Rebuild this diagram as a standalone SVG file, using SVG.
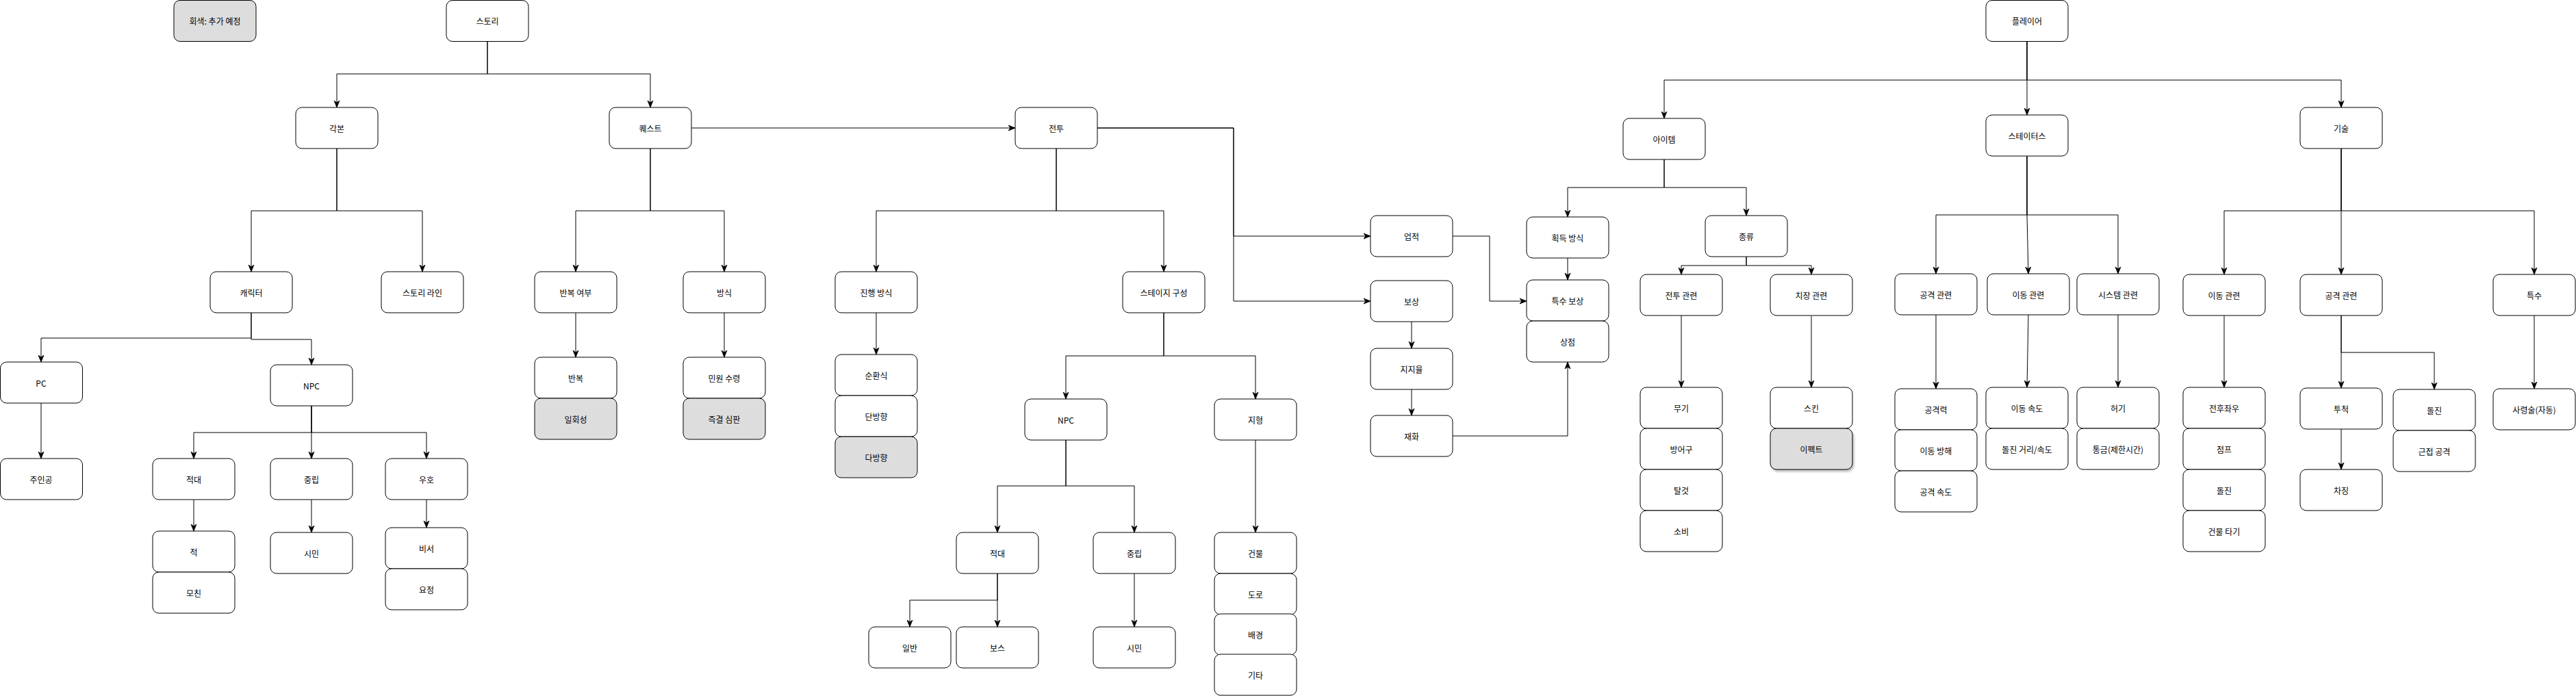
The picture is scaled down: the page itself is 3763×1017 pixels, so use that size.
<svg xmlns="http://www.w3.org/2000/svg" width="3763" height="1017" viewBox="0 0 3763 1017">
<style>
.node rect{fill:#ffffff;stroke:#000000;stroke-width:1}
.node.gray rect{fill:#dddddd}
.node text{font-family:"Noto Sans CJK KR","Liberation Sans",sans-serif;font-size:12px;fill:#000000;text-anchor:middle;dominant-baseline:central}
.edges path{fill:none;stroke:#000000;stroke-width:1}
</style>
<defs>
<marker id="arr" markerUnits="userSpaceOnUse" markerWidth="10" markerHeight="10" viewBox="0 0 10 10" refX="10" refY="5" orient="auto">
<path d="M0,1 L10,5 L0,9 L3,5 z" fill="#000000" stroke="#000000" stroke-width="0.8"/>
</marker>
<filter id="shadow" x="-10%" y="-10%" width="130%" height="140%">
<feDropShadow dx="2" dy="3" stdDeviation="1.5" flood-color="#000000" flood-opacity="0.25"/>
</filter>
</defs>
<rect x="0" y="0" width="3763" height="1017" fill="#ffffff"/>
<g class="edges" marker-end="url(#arr)">
<path d="M712,60 V108 H492 V157"/>
<path d="M712,60 V108 H950 V157"/>
<path d="M492,217 V308 H367 V397"/>
<path d="M492,217 V308 H617 V397"/>
<path d="M367,457 V494 H60 V529"/>
<path d="M367,457 V496 H455 V533"/>
<path d="M60,589 V670"/>
<path d="M455,593 V632 H283 V670"/>
<path d="M455,593 V670"/>
<path d="M455,593 V632 H623 V670"/>
<path d="M283,730 V776"/>
<path d="M455,730 V778"/>
<path d="M623,730 V771"/>
<path d="M1010,187 H1483"/>
<path d="M950,217 V308 H841 V397"/>
<path d="M950,217 V308 H1058 V397"/>
<path d="M841,457 V522"/>
<path d="M1058,457 V522"/>
<path d="M1543,217 V308 H1280 V397"/>
<path d="M1543,217 V308 H1700 V397"/>
<path d="M1280,457 V518"/>
<path d="M1700,457 V520 H1557 V583"/>
<path d="M1700,457 V520 H1834 V583"/>
<path d="M1557,643 V710 H1457 V778"/>
<path d="M1557,643 V710 H1657 V778"/>
<path d="M1457,838 V877 H1329 V916"/>
<path d="M1457,838 V916"/>
<path d="M1657,838 V916"/>
<path d="M1834,643 V778"/>
<path d="M1603,187 H1802 V345 H2002"/>
<path d="M1603,187 H1802 V440 H2002"/>
<path d="M2062,470 V509"/>
<path d="M2062,569 V607"/>
<path d="M2122,345 H2176 V440 H2230"/>
<path d="M2122,637 H2290 V529"/>
<path d="M2961,60 V117 H2431 V173"/>
<path d="M2961,60 V168"/>
<path d="M2961,60 V117 H3420 V157"/>
<path d="M2431,233 V274 H2290 V317"/>
<path d="M2431,233 V274 H2551 V315"/>
<path d="M2290,377 V409"/>
<path d="M2551,375 V388 H2456 V401"/>
<path d="M2551,375 V388 H2646 V401"/>
<path d="M2456,461 V566"/>
<path d="M2646,462 V566"/>
<path d="M2961,228 V314 H2828 V400"/>
<path d="M2961,228 V314 L2963,400"/>
<path d="M2961,228 V314 H3094 V400"/>
<path d="M2828,460 V568"/>
<path d="M2963,460 L2961,566"/>
<path d="M3094,460 V566"/>
<path d="M3420,217 V308 H3249 V401"/>
<path d="M3420,217 V401"/>
<path d="M3420,217 V308 H3702 V401"/>
<path d="M3249,461 V566"/>
<path d="M3420,461 V567"/>
<path d="M3420,461 V515 H3556 V569"/>
<path d="M3420,627 V686"/>
<path d="M3702,461 V568"/>
</g>
<g id="n_legend" class="node gray"><rect x="254" y="0.5" width="120" height="60" rx="9"/><text x="314" y="30">회색: 추가 예정</text></g>
<g id="n_story" class="node"><rect x="652" y="0.5" width="120" height="60" rx="9"/><text x="712" y="30">스토리</text></g>
<g id="n_script" class="node"><rect x="432" y="157" width="120" height="60" rx="9"/><text x="492" y="187">각본</text></g>
<g id="n_quest" class="node"><rect x="890" y="157" width="120" height="60" rx="9"/><text x="950" y="187">퀘스트</text></g>
<g id="n_battle" class="node"><rect x="1483" y="157" width="120" height="60" rx="9"/><text x="1543" y="187">전투</text></g>
<g id="n_char" class="node"><rect x="307" y="397" width="120" height="60" rx="9"/><text x="367" y="427">캐릭터</text></g>
<g id="n_storyline" class="node"><rect x="557" y="397" width="120" height="60" rx="9"/><text x="617" y="427">스토리 라인</text></g>
<g id="n_pc" class="node"><rect x="0.5" y="529" width="120" height="60" rx="9"/><text x="60" y="559">PC</text></g>
<g id="n_npc" class="node"><rect x="395" y="533" width="120" height="60" rx="9"/><text x="455" y="563">NPC</text></g>
<g id="n_hero" class="node"><rect x="0.5" y="670" width="120" height="60" rx="9"/><text x="60" y="700">주인공</text></g>
<g id="n_hostile" class="node"><rect x="223" y="670" width="120" height="60" rx="9"/><text x="283" y="700">적대</text></g>
<g id="n_neutral" class="node"><rect x="395" y="670" width="120" height="60" rx="9"/><text x="455" y="700">중립</text></g>
<g id="n_friendly" class="node"><rect x="563" y="670" width="120" height="60" rx="9"/><text x="623" y="700">우호</text></g>
<g id="n_enemy" class="node"><rect x="223" y="776" width="120" height="60" rx="9"/><text x="283" y="806">적</text></g>
<g id="n_mother" class="node"><rect x="223" y="836" width="120" height="60" rx="9"/><text x="283" y="866">모친</text></g>
<g id="n_citizen" class="node"><rect x="395" y="778" width="120" height="60" rx="9"/><text x="455" y="808">시민</text></g>
<g id="n_secretary" class="node"><rect x="563" y="771" width="120" height="60" rx="9"/><text x="623" y="801">비서</text></g>
<g id="n_fairy" class="node"><rect x="563" y="831" width="120" height="60" rx="9"/><text x="623" y="861">요정</text></g>
<g id="n_repeat" class="node"><rect x="781" y="397" width="120" height="60" rx="9"/><text x="841" y="427">반복 여부</text></g>
<g id="n_method" class="node"><rect x="998" y="397" width="120" height="60" rx="9"/><text x="1058" y="427">방식</text></g>
<g id="n_rep" class="node"><rect x="781" y="522" width="120" height="60" rx="9"/><text x="841" y="552">반복</text></g>
<g id="n_once" class="node gray"><rect x="781" y="582" width="120" height="60" rx="9"/><text x="841" y="612">일회성</text></g>
<g id="n_complaint" class="node"><rect x="998" y="522" width="120" height="60" rx="9"/><text x="1058" y="552">민원 수령</text></g>
<g id="n_summary" class="node gray"><rect x="998" y="582" width="120" height="60" rx="9"/><text x="1058" y="612">즉결 심판</text></g>
<g id="n_progress" class="node"><rect x="1220" y="397" width="120" height="60" rx="9"/><text x="1280" y="427">진행 방식</text></g>
<g id="n_cyclic" class="node"><rect x="1220" y="518" width="120" height="60" rx="9"/><text x="1280" y="548">순환식</text></g>
<g id="n_oneway" class="node"><rect x="1220" y="578" width="120" height="60" rx="9"/><text x="1280" y="608">단방향</text></g>
<g id="n_multi" class="node gray"><rect x="1220" y="638" width="120" height="60" rx="9"/><text x="1280" y="668">다방향</text></g>
<g id="n_stage" class="node"><rect x="1640" y="397" width="120" height="60" rx="9"/><text x="1700" y="427">스테이지 구성</text></g>
<g id="n_bnpc" class="node"><rect x="1497" y="583" width="120" height="60" rx="9"/><text x="1557" y="613">NPC</text></g>
<g id="n_terrain" class="node"><rect x="1774" y="583" width="120" height="60" rx="9"/><text x="1834" y="613">지형</text></g>
<g id="n_bhostile" class="node"><rect x="1397" y="778" width="120" height="60" rx="9"/><text x="1457" y="808">적대</text></g>
<g id="n_bneutral" class="node"><rect x="1597" y="778" width="120" height="60" rx="9"/><text x="1657" y="808">중립</text></g>
<g id="n_normal" class="node"><rect x="1269" y="916" width="120" height="60" rx="9"/><text x="1329" y="946">일반</text></g>
<g id="n_boss" class="node"><rect x="1397" y="916" width="120" height="60" rx="9"/><text x="1457" y="946">보스</text></g>
<g id="n_bcitizen" class="node"><rect x="1597" y="916" width="120" height="60" rx="9"/><text x="1657" y="946">시민</text></g>
<g id="n_building" class="node"><rect x="1774" y="778" width="120" height="60" rx="9"/><text x="1834" y="808">건물</text></g>
<g id="n_road" class="node"><rect x="1774" y="838" width="120" height="60" rx="9"/><text x="1834" y="868">도로</text></g>
<g id="n_bg" class="node"><rect x="1774" y="897" width="120" height="60" rx="9"/><text x="1834" y="927">배경</text></g>
<g id="n_etc" class="node"><rect x="1774" y="956" width="120" height="60" rx="9"/><text x="1834" y="986">기타</text></g>
<g id="n_achieve" class="node"><rect x="2002" y="315" width="120" height="60" rx="9"/><text x="2062" y="345">업적</text></g>
<g id="n_reward" class="node"><rect x="2002" y="410" width="120" height="60" rx="9"/><text x="2062" y="440">보상</text></g>
<g id="n_support" class="node"><rect x="2002" y="509" width="120" height="60" rx="9"/><text x="2062" y="539">지지율</text></g>
<g id="n_currency" class="node"><rect x="2002" y="607" width="120" height="60" rx="9"/><text x="2062" y="637">재화</text></g>
<g id="n_acquire" class="node"><rect x="2230" y="317" width="120" height="60" rx="9"/><text x="2290" y="347">획득 방식</text></g>
<g id="n_special_reward" class="node"><rect x="2230" y="409" width="120" height="60" rx="9"/><text x="2290" y="439">특수 보상</text></g>
<g id="n_shop" class="node"><rect x="2230" y="469" width="120" height="60" rx="9"/><text x="2290" y="499">상점</text></g>
<g id="n_item" class="node"><rect x="2371" y="173" width="120" height="60" rx="9"/><text x="2431" y="203">아이템</text></g>
<g id="n_kind" class="node"><rect x="2491" y="315" width="120" height="60" rx="9"/><text x="2551" y="345">종류</text></g>
<g id="n_combat" class="node"><rect x="2396" y="401" width="120" height="60" rx="9"/><text x="2456" y="431">전투 관련</text></g>
<g id="n_cosmetic" class="node"><rect x="2586" y="401" width="120" height="60" rx="9"/><text x="2646" y="431">치장 관련</text></g>
<g id="n_weapon" class="node"><rect x="2396" y="566" width="120" height="60" rx="9"/><text x="2456" y="596">무기</text></g>
<g id="n_armor" class="node"><rect x="2396" y="626" width="120" height="60" rx="9"/><text x="2456" y="656">방어구</text></g>
<g id="n_mount" class="node"><rect x="2396" y="686" width="120" height="60" rx="9"/><text x="2456" y="716">탈것</text></g>
<g id="n_consume" class="node"><rect x="2396" y="746" width="120" height="60" rx="9"/><text x="2456" y="776">소비</text></g>
<g id="n_skin" class="node"><rect x="2586" y="566" width="120" height="60" rx="9"/><text x="2646" y="596">스킨</text></g>
<g id="n_effect" class="node gray"><rect x="2586" y="626" width="120" height="60" rx="9" filter="url(#shadow)"/><text x="2646" y="656">이펙트</text></g>
<g id="n_player" class="node"><rect x="2901" y="0.5" width="120" height="60" rx="9"/><text x="2961" y="30">플레이어</text></g>
<g id="n_status" class="node"><rect x="2901" y="168" width="120" height="60" rx="9"/><text x="2961" y="198">스테이터스</text></g>
<g id="n_skill" class="node"><rect x="3360" y="157" width="120" height="60" rx="9"/><text x="3420" y="187">기술</text></g>
<g id="n_s_atk" class="node"><rect x="2768" y="400" width="120" height="60" rx="9"/><text x="2828" y="430">공격 관련</text></g>
<g id="n_s_move" class="node"><rect x="2903" y="400" width="120" height="60" rx="9"/><text x="2963" y="430">이동 관련</text></g>
<g id="n_s_sys" class="node"><rect x="3034" y="400" width="120" height="60" rx="9"/><text x="3094" y="430">시스템 관련</text></g>
<g id="n_atkpow" class="node"><rect x="2768" y="568" width="120" height="60" rx="9"/><text x="2828" y="598">공격력</text></g>
<g id="n_slow" class="node"><rect x="2768" y="628" width="120" height="60" rx="9"/><text x="2828" y="658">이동 방해</text></g>
<g id="n_atkspd" class="node"><rect x="2768" y="688" width="120" height="60" rx="9"/><text x="2828" y="718">공격 속도</text></g>
<g id="n_movspd" class="node"><rect x="2901" y="566" width="120" height="60" rx="9"/><text x="2961" y="596">이동 속도</text></g>
<g id="n_dash" class="node"><rect x="2901" y="626" width="120" height="60" rx="9"/><text x="2961" y="656">돌진 거리/속도</text></g>
<g id="n_hunger" class="node"><rect x="3034" y="566" width="120" height="60" rx="9"/><text x="3094" y="596">허기</text></g>
<g id="n_curfew" class="node"><rect x="3034" y="626" width="120" height="60" rx="9"/><text x="3094" y="656">통금(제한시간)</text></g>
<g id="n_k_move" class="node"><rect x="3189" y="401" width="120" height="60" rx="9"/><text x="3249" y="431">이동 관련</text></g>
<g id="n_k_atk" class="node"><rect x="3360" y="401" width="120" height="60" rx="9"/><text x="3420" y="431">공격 관련</text></g>
<g id="n_k_special" class="node"><rect x="3642" y="401" width="120" height="60" rx="9"/><text x="3702" y="431">특수</text></g>
<g id="n_dirs" class="node"><rect x="3189" y="566" width="120" height="60" rx="9"/><text x="3249" y="596">전후좌우</text></g>
<g id="n_jump" class="node"><rect x="3189" y="626" width="120" height="60" rx="9"/><text x="3249" y="656">점프</text></g>
<g id="n_kdash" class="node"><rect x="3189" y="686" width="120" height="60" rx="9"/><text x="3249" y="716">돌진</text></g>
<g id="n_climb" class="node"><rect x="3189" y="746" width="120" height="60" rx="9"/><text x="3249" y="776">건물 타기</text></g>
<g id="n_throw" class="node"><rect x="3360" y="567" width="120" height="60" rx="9"/><text x="3420" y="597">투척</text></g>
<g id="n_charge" class="node"><rect x="3360" y="686" width="120" height="60" rx="9"/><text x="3420" y="716">차징</text></g>
<g id="n_rush" class="node"><rect x="3496" y="569" width="120" height="60" rx="9"/><text x="3556" y="599">돌진</text></g>
<g id="n_melee" class="node"><rect x="3496" y="629" width="120" height="60" rx="9"/><text x="3556" y="659">근접 공격</text></g>
<g id="n_necro" class="node"><rect x="3642" y="568" width="120" height="60" rx="9"/><text x="3702" y="598">사령술(자동)</text></g>
</svg>
